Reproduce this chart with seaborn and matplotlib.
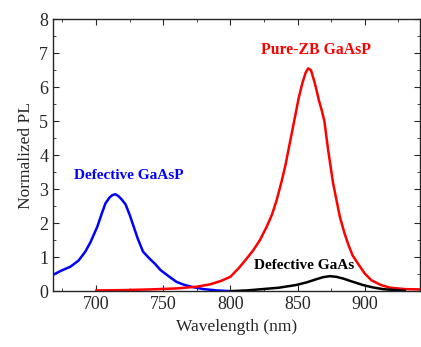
import numpy as np
import pandas as pd
import matplotlib
matplotlib.use("Agg")
import matplotlib.pyplot as plt
import seaborn as sns
from matplotlib.ticker import MultipleLocator

# Defective GaAsP (blue)
wl_gaasp_def = [668, 674, 681, 687, 692, 696, 701, 704, 707, 710, 712, 714.3, 716.5, 719,
                722, 725, 728, 731, 735, 740, 744, 748, 754, 760, 766, 772, 780, 790, 800]
pl_gaasp_def = [0.48, 0.6, 0.72, 0.9, 1.16, 1.45, 1.9, 2.25, 2.58, 2.75, 2.82, 2.85, 2.8, 2.7,
                2.55, 2.25, 1.9, 1.55, 1.16, 0.95, 0.8, 0.62, 0.44, 0.27, 0.18, 0.12, 0.06, 0.02, 0.0]

# Pure-ZB GaAsP (red)
wl_gaasp_zb = [700, 720, 740, 760, 775, 785, 793, 800, 807, 812, 817, 822, 827, 831, 834.5,
               838, 841, 843.5, 846, 848.5, 851, 853.5, 856, 858, 860, 863, 866, 868, 870,
               872.8, 876.5, 881.5, 885, 888, 891, 895, 900, 905, 912, 919, 930, 941]
pl_gaasp_zb = [0.02, 0.03, 0.05, 0.08, 0.13, 0.2, 0.3, 0.42, 0.71, 0.95, 1.2, 1.5, 1.89, 2.25, 2.68,
               3.2, 3.7, 4.2, 4.7, 5.2, 5.7, 6.1, 6.42, 6.55, 6.5, 6.1, 5.6, 5.32, 5.0,
               4.15, 3.17, 2.19, 1.7, 1.35, 1.05, 0.81, 0.52, 0.32, 0.18, 0.1, 0.06, 0.05]

# Defective GaAs (black)
wl_gaas_def = [800, 812, 824, 836, 849, 857, 864, 869, 874, 879, 884, 890, 898.7, 906, 913.5, 922, 930]
pl_gaas_def = [0.0, 0.02, 0.06, 0.1, 0.18, 0.26, 0.35, 0.41, 0.44, 0.42, 0.37, 0.29, 0.18, 0.11, 0.06, 0.03, 0.01]

names = ["Defective GaAsP", "Pure-ZB GaAsP", "Defective GaAs"]
colors = ["#0000ff", "#ff0000", "#000000"]

df = pd.concat([
    pd.DataFrame({"wl": wl_gaasp_def, "pl": pl_gaasp_def, "sample": names[0]}),
    pd.DataFrame({"wl": wl_gaasp_zb, "pl": pl_gaasp_zb, "sample": names[1]}),
    pd.DataFrame({"wl": wl_gaas_def, "pl": pl_gaas_def, "sample": names[2]}),
])

sns.set_style("ticks")
plt.rcParams["font.family"] = ["Liberation Serif", "DejaVu Serif"]

fig = plt.figure(figsize=(4.21, 3.47), dpi=100)
ax = fig.add_axes([0.126, 0.161, 0.871, 0.784])

sns.lineplot(data=df, x="wl", y="pl", hue="sample", palette=dict(zip(names, colors)),
             linewidth=1.8, legend=False, ax=ax, sort=False, estimator=None)

ax.set_xlim(668, 941)
ax.set_ylim(0, 8)
ax.xaxis.set_major_locator(MultipleLocator(50))
ax.xaxis.set_minor_locator(MultipleLocator(25))
ax.yaxis.set_major_locator(MultipleLocator(1))
ax.yaxis.set_minor_locator(MultipleLocator(0.5))
ax.tick_params(which="both", direction="in", top=True, right=True, labelsize=13)
ax.tick_params(which="major", length=4)
ax.tick_params(which="minor", length=2)
for s in ax.spines.values():
    s.set_linewidth(1.0)

ax.set_xlabel("Wavelength (nm)", fontsize=12.5)
ax.set_ylabel("Normalized PL", fontsize=12.5)

ax.text(724, 3.4, names[0], color=colors[0], fontsize=11, fontweight="bold",
        ha="center", va="center")
ax.text(864, 7.09, names[1], color=colors[1], fontsize=11.3, fontweight="bold",
        ha="center", va="center")
ax.text(855, 0.76, names[2], color=colors[2], fontsize=11, fontweight="bold",
        ha="center", va="center")

fig.savefig("out.png", dpi=100)
